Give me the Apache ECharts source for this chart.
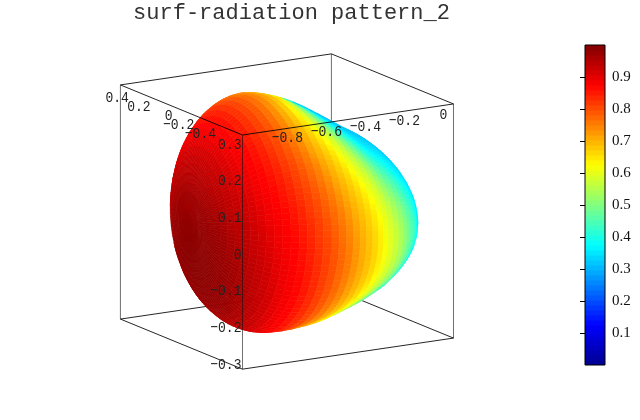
<!DOCTYPE html>
<html><head><meta charset="utf-8">
<style>html,body{margin:0;padding:0;background:#fff}#c{width:640px;height:420px}</style>
<script src="https://cdn.jsdelivr.net/npm/echarts@6/dist/echarts.min.js"></script>
</head><body><div id="c"></div>
<script>
// radiation pattern profile, tip (x = -1) to back end, one row per 4 degrees of polar angle
const axialX = [-1.0,-0.999,-0.995,-0.988,-0.98,-0.968,-0.955,-0.94,-0.921,-0.9,-0.878,-0.854,-0.828,-0.8,-0.77,-0.739,-0.707,-0.674,-0.64,-0.604,-0.568,-0.532,-0.496,-0.46,-0.424,-0.388,-0.352,-0.316,-0.282,-0.249,-0.217,-0.186,-0.156,-0.128,-0.102,-0.077,-0.054,-0.034,-0.016,0.0,0.014,0.025,0.033,0.04,0.044,0.045];
const radialY = [0,0.07,0.139,0.208,0.276,0.342,0.407,0.47,0.53,0.588,0.643,0.695,0.743,0.788,0.829,0.866,0.899,0.927,0.951,0.97,0.985,0.995,0.999,0.999,0.995,0.985,0.97,0.951,0.927,0.899,0.88,0.87,0.85,0.82,0.79,0.76,0.72,0.68,0.63,0.58,0.5,0.41,0.31,0.2,0.1,0];
const radialZ = [0,0.075,0.117,0.256,0.33,0.412,0.484,0.553,0.625,0.692,0.75,0.804,0.853,0.896,0.933,0.961,0.983,0.996,1,0.995,0.985,0.97,0.955,0.935,0.91,0.88,0.85,0.82,0.79,0.76,0.73,0.7,0.67,0.635,0.6,0.56,0.52,0.48,0.44,0.4,0.34,0.27,0.2,0.13,0.07,0];
const axisDroop = [0,0,0,0,0,0,0,0,0,0,0,0,0,0,0,0,0,0,0,-0.002,-0.004,-0.006,-0.009,-0.012,-0.015,-0.018,-0.021,-0.024,-0.027,-0.03,-0.032,-0.032,-0.033,-0.033,-0.034,-0.034,-0.035,-0.036,-0.037,-0.038,-0.039,-0.04,-0.04,-0.04,-0.04,-0.04];
// gain against off-beam angle, one entry per 4 degrees
const gainByAngle = [0.99,0.989,0.988,0.986,0.984,0.98,0.975,0.97,0.96,0.95,0.94,0.93,0.92,0.905,0.89,0.88,0.87,0.855,0.84,0.82,0.805,0.785,0.765,0.745,0.72,0.7,0.68,0.66,0.635,0.61,0.59,0.565,0.535,0.505,0.475,0.445,0.42,0.395,0.375,0.36,0.35,0.34,0.335,0.33,0.325,0.32];
const beamElevation = -17, elevationWeight = 1.05;
const xTicks = [-0.8,-0.6,-0.4,-0.2,0];
const yTicks = [0.4,0.2,0,-0.2,-0.4];
const zTicks = [0.3,0.2,0.1,0,-0.1,-0.2,-0.3];
const colorbarTicks = [0.1,0.2,0.3,0.4,0.5,0.6,0.7,0.8,0.9];
const jet = ['#00008f','#0000ff','#0080ff','#00ffff','#80ff80','#ffff00','#ff8000','#ff0000','#800000'];
const titleText = 'surf-radiation pattern_2';
const xRange = [-1.03, 0.052];
const yRange = [-0.56, 0.56];
const zRange = [-0.319, 0.319];
const semiY = 0.56, semiZ = 0.32, centreZ = 0.0096;
const segments = 120;

// box projection (orthographic)
const origin = [242.5, 135];   // x min, y min, z max
const xVec = [195, -28.7], yVec = [-109, -44.7], zVec = [0, -367];
function project(x, y, z) {
  const a = x - xRange[0], b = y - yRange[0], c = z - zRange[1];
  return [origin[0] + a*xVec[0] + b*yVec[0] + c*zVec[0],
          origin[1] + a*xVec[1] + b*yVec[1] + c*zVec[1]];
}
function surfPoint(i, j) {
  const p = j / segments * Math.PI * 2;
  return project(axialX[i], radialY[i]*semiY*Math.cos(p), centreZ + axisDroop[i] + radialZ[i]*semiZ*Math.sin(p));
}
function cellGain(i, j) {
  const t = (i + 0.5) * 4 * Math.PI / 180, p = (j + 0.5) / segments * Math.PI * 2;
  const dx = -Math.cos(t), dy = Math.sin(t)*Math.cos(p), dz = Math.sin(t)*Math.sin(p);
  const az = Math.atan2(Math.abs(dy), -dx) * 180 / Math.PI;
  const el = Math.asin(dz) * 180 / Math.PI;
  const off = Math.sqrt(az*az + Math.pow(elevationWeight*(el-beamElevation),2)) / 4;
  const k = Math.min(gainByAngle.length-2, Math.floor(off)), f = Math.min(1, off-k);
  return gainByAngle[k] * (1-f) + gainByAngle[k+1] * f;
}
const surfData = [];
for (let i = 0; i < axialX.length - 1; i++) for (let j = 0; j < segments; j++) surfData.push([i, j, cellGain(i,j)]);

const X0=xRange[0],X1=xRange[1],Y0=yRange[0],Y1=yRange[1],Z0=zRange[0],Z1=zRange[1];
const backEdges = [
  [X0,Y1,Z1,X1,Y1,Z1],[X1,Y1,Z1,X1,Y0,Z1],[X1,Y1,Z1,X1,Y1,Z0],
  [X0,Y1,Z0,X1,Y1,Z0],[X1,Y0,Z0,X1,Y1,Z0]];
const frontEdges = [
  [X0,Y0,Z1,X0,Y1,Z1],[X0,Y0,Z1,X1,Y0,Z1],[X0,Y0,Z1,X0,Y0,Z0],
  [X0,Y1,Z1,X0,Y1,Z0],[X1,Y0,Z1,X1,Y0,Z0],
  [X0,Y0,Z0,X0,Y1,Z0],[X0,Y0,Z0,X1,Y0,Z0]];

function edgeSeries(edges, z) {
  return {type:'custom', xAxisIndex:0, yAxisIndex:0, z, silent:true, clip:false,
    data: edges.map((e,i)=>[i]),
    encode:{x:[],y:[]},
    renderItem(params, api){
      const e = edges[api.value(0)];
      const a = api.coord(project(e[0],e[1],e[2])), b = api.coord(project(e[3],e[4],e[5]));
      const vertical = Math.abs(a[0]-b[0])<1;
      return {type:'line', shape:{x1:a[0],y1:a[1],x2:b[0],y2:b[1]},
        style:{stroke: vertical?'#111':'#000', opacity: vertical?0.6:0.85, lineWidth:1}};
    }};
}
function labelSeries(ticks, pos, align) {
  return {type:'custom', xAxisIndex:0, yAxisIndex:0, z:5, silent:true, clip:false,
    data: ticks.map(t=>[t]), encode:{x:[],y:[]},
    renderItem(params, api){
      const t = api.value(0), p = api.coord(pos(t));
      return {type:'text', x:p[0], y:p[1], scaleX:0.84, z2:10,
        style:{text:String(t).replace('-','\u2212'), x:0, y:0, align, verticalAlign:'middle',
          font:'15.5px "Liberation Mono"', fill:'#222'}};
    }};
}
const chart = echarts.init(document.getElementById('c'), null, {renderer:'canvas'});
chart.setOption({
  animation:false,
  backgroundColor:'#fff',
  title:{text:titleText, left:286.5, top:-3, textAlign:'center',
    textStyle:{fontFamily:'"Liberation Mono"', fontSize:22, fontWeight:'normal', color:'#333'}},
  grid:[
    {left:0, top:0, width:640, height:420, show:false},
    {left:585, top:45, width:20, height:320, show:true, borderColor:'#000', borderWidth:1, backgroundColor:'transparent', z:4}
  ],
  xAxis:[
    {type:'value', gridIndex:0, min:0, max:640, show:false},
    {type:'value', gridIndex:1, min:0, max:1, show:false}
  ],
  yAxis:[
    {type:'value', gridIndex:0, min:0, max:420, inverse:true, show:false},
    {type:'value', gridIndex:1, min:0, max:1, position:'right', z:5,
      axisLine:{show:false}, splitLine:{show:false},
      axisTick:{show:true, inside:true, length:5, customValues:colorbarTicks, lineStyle:{color:'#000'}},
      axisLabel:{show:true, margin:7, customValues:colorbarTicks, formatter:v=>v.toFixed(1),
        fontFamily:'"Liberation Serif"', fontSize:15, color:'#111'}}
  ],
  visualMap:{show:false, type:'continuous', min:0, max:1, dimension:2, seriesIndex:[1,5],
    inRange:{color:jet}},
  series:[
    edgeSeries(backEdges,1),
    {type:'custom', xAxisIndex:0, yAxisIndex:0, z:2, silent:true, clip:false, progressive:0,
      data:surfData, encode:{x:[],y:[]},
      renderItem(params, api){
        const i=api.value(0), j=api.value(1), n=segments;
        const pts=[surfPoint(i,j),surfPoint(i+1,j),surfPoint(i+1,(j+1)%n),surfPoint(i,(j+1)%n)].map(p=>api.coord(p));
        let area=0;
        for(let k=0;k<4;k++){const a=pts[k],b=pts[(k+1)%4];area+=a[0]*b[1]-b[0]*a[1];}
        if(area<=0) return null;
        const c=api.visual('color');
        return {type:'polygon', shape:{points:pts}, style:{fill:c, stroke:c, lineWidth:0.6}};
      }},
    edgeSeries(frontEdges,3),
    labelSeries(xTicks, t=>{const p=project(t,Y0,Z1);return [p[0],p[1]+9.5];}, 'center'),
    labelSeries(yTicks, t=>{const p=project(X0,t,Z1);return [p[0]-9,p[1]+6];}, 'right'),
    {type:'custom', xAxisIndex:1, yAxisIndex:1, z:2, silent:true, clip:true, progressive:0,
      data:Array.from({length:64},(_,k)=>[k/64,(k+1)/64,(k+0.5)/64]), encode:{x:[],y:[0,1]},
      renderItem(params, api){
        const a=api.coord([0,api.value(0)]), b=api.coord([1,api.value(1)]);
        const c=api.visual('color');
        return {type:'rect', shape:{x:a[0],y:b[1],width:b[0]-a[0],height:a[1]-b[1]+0.5}, style:{fill:c}};
      }},
    labelSeries(zTicks, t=>{const p=project(X0,Y0,t);return [p[0]-1,p[1]+2.5];}, 'right')
  ]
});
</script></body></html>
